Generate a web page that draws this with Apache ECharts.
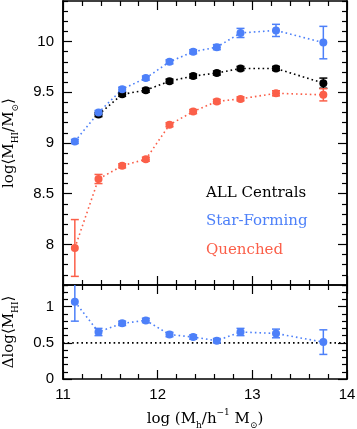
<!DOCTYPE html>
<html>
<head>
<meta charset="utf-8">
<script src="https://cdn.jsdelivr.net/npm/echarts@6.0.0/dist/echarts.min.js"></script>
<style>
html, body { margin: 0; padding: 0; background: #fff; }
#chart { width: 357px; height: 429px; }
</style>
</head>
<body>
<div id="chart"></div>
<script>
// values
var haloMass = [11.125, 11.375, 11.625, 11.875, 12.125, 12.375, 12.625, 12.875, 13.25, 13.75];
var hiAll    = [null, 9.28, 9.48, 9.52, 9.61, 9.66, 9.69, 9.735, 9.735, 9.59];
var hiAllErr = [null, 0.02, 0.02, 0.02, 0.02, 0.02, 0.02, 0.02, 0.02, 0.05];
var hiSF     = [9.015, 9.30, 9.53, 9.64, 9.80, 9.90, 9.945, 10.085, 10.11, 9.99];
var hiSFErr  = [0.02, 0.02, 0.02, 0.02, 0.02, 0.02, 0.025, 0.045, 0.06, 0.16];
var hiQ      = [7.965, 8.645, 8.775, 8.84, 9.18, 9.31, 9.41, 9.435, 9.49, 9.475];
var hiQErr   = [0.28, 0.045, 0.02, 0.02, 0.02, 0.02, 0.02, 0.02, 0.025, 0.06];
var dHI      = [1.07, 0.65, 0.77, 0.81, 0.615, 0.58, 0.53, 0.65, 0.63, 0.51];
var dHIErr   = [0.27, 0.05, 0.03, 0.03, 0.03, 0.03, 0.03, 0.05, 0.06, 0.17];
var dHIRef   = 0.5;

// tick labels
var xTicks = [11, 12, 13, 14];
var yTopTicks = [8, 8.5, 9, 9.5, 10];
var yBotTicks = [0, 0.5, 1];

var blue = '#4d80f9', red = '#fb5f49', black = '#000000';

// small ticks between the labelled ones
function minorTicks(lo, hi, step, major) {
	var out = [];
	for (var v = lo; v <= hi + 1e-9; v += step) {
		var r = Math.round(v * 100) / 100;
		if (major.indexOf(r) < 0) out.push(r);
	}
	return out;
}

function points(ys) {
	var out = [];
	haloMass.forEach(function (x, i) { if (ys[i] != null) out.push([x, ys[i]]); });
	return out;
}
function bars(ys, es) {
	var out = [];
	haloMass.forEach(function (x, i) { if (ys[i] != null) out.push([x, ys[i], es[i]]); });
	return out;
}

function errorBar(params, api) {
	var x = api.value(0), y = api.value(1), e = api.value(2);
	var hi = api.coord([x, y + e]), lo = api.coord([x, y - e]);
	var w = 4;
	var st = { stroke: api.visual('color'), lineWidth: 1.5 };
	return {
		type: 'group',
		children: [
			{ type: 'line', shape: { x1: hi[0], y1: hi[1], x2: lo[0], y2: lo[1] }, style: st },
			{ type: 'line', shape: { x1: hi[0] - w, y1: hi[1], x2: hi[0] + w, y2: hi[1] }, style: st },
			{ type: 'line', shape: { x1: lo[0] - w, y1: lo[1], x2: lo[0] + w, y2: lo[1] }, style: st }
		]
	};
}

var frame = { show: true, onZero: false, lineStyle: { color: '#000', width: 1.5 } };
var labelFont = { color: '#000', fontFamily: 'Liberation Sans', fontSize: 15 };
var nameRich = {
	sub: { fontFamily: 'DejaVu Serif', fontSize: 9, verticalAlign: 'bottom', lineHeight: 22 },
	sup: { fontFamily: 'DejaVu Serif', fontSize: 9, verticalAlign: 'top', lineHeight: 22 }
};

function xAx(grid, pos, labels) {
	return {
		type: 'value', gridIndex: grid, position: pos, min: 11, max: 14, interval: 1,
		axisLine: frame,
		axisTick: { show: true, inside: true, length: 9, lineStyle: { color: '#000', width: 1.2 } },
		minorTick: { show: true, splitNumber: 5, length: 5, lineStyle: { color: '#000', width: 1.2 } },
		axisLabel: labels ? Object.assign({ show: true, margin: 8 }, labelFont) : { show: false },
		splitLine: { show: false }
	};
}
function yAx(grid, pos, min, max, ticks, len, labels) {
	return {
		type: 'value', gridIndex: grid, position: pos, min: min, max: max,
		axisLine: frame,
		axisTick: { show: true, inside: true, length: len, customValues: ticks, lineStyle: { color: '#000', width: 1.2 } },
		axisLabel: labels ? Object.assign({ show: true, margin: 9, customValues: labels }, labelFont) : { show: false },
		splitLine: { show: false }
	};
}

var xAxes = [xAx(0, 'bottom', false), xAx(0, 'top', false), xAx(1, 'bottom', true), xAx(1, 'top', false)];
xAxes[2].name = 'log (M{sub|h}/h{sup|−1} M{sub|⊙})';
xAxes[2].nameLocation = 'middle';
xAxes[2].nameGap = 29;
xAxes[2].nameTextStyle = { color: '#000', fontFamily: 'DejaVu Serif', fontSize: 15, rich: nameRich };

var topMinor = minorTicks(7.6, 10.4, 0.1, yTopTicks);
var botMinor = minorTicks(0, 1.3, 0.1, yBotTicks);
var yAxes = [
	yAx(0, 'left', 7.6, 10.4, yTopTicks, 9, yTopTicks),
	yAx(0, 'left', 7.6, 10.4, topMinor, 5, null),
	yAx(0, 'right', 7.6, 10.4, yTopTicks, 9, null),
	yAx(0, 'right', 7.6, 10.4, topMinor, 5, null),
	yAx(1, 'left', 0, 1.3, yBotTicks, 9, yBotTicks),
	yAx(1, 'left', 0, 1.3, botMinor, 5, null),
	yAx(1, 'right', 0, 1.3, yBotTicks, 9, null),
	yAx(1, 'right', 0, 1.3, botMinor, 5, null)
];
yAxes[0].name = 'log⟨M{sub|HI}/M{sub|⊙}⟩';
yAxes[0].nameLocation = 'middle';
yAxes[0].nameGap = 43;
yAxes[0].nameTextStyle = { color: '#000', fontFamily: 'DejaVu Serif', fontSize: 15, rich: nameRich };
yAxes[4].name = 'Δlog⟨M{sub|HI}⟩';
yAxes[4].nameLocation = 'middle';
yAxes[4].nameGap = 43;
yAxes[4].nameTextStyle = { color: '#000', fontFamily: 'DejaVu Serif', fontSize: 15, rich: nameRich };

function lineSeries(data, color, xi, yi) {
	return {
		type: 'line', xAxisIndex: xi, yAxisIndex: yi, data: data, z: 3,
		symbol: 'circle', symbolSize: 8, showSymbol: true,
		itemStyle: { color: color },
		lineStyle: { color: color, width: 1.6, type: [1.6, 3] },
		animation: false
	};
}
function barSeries(data, color, xi, yi) {
	return {
		type: 'custom', xAxisIndex: xi, yAxisIndex: yi, data: data, z: 2,
		renderItem: errorBar, itemStyle: { color: color }, clip: true,
		encode: { x: 0, y: 1 }, animation: false
	};
}

var chart = echarts.init(document.getElementById('chart'));
chart.setOption({
	animation: false,
	grid: [
		{ left: 63, top: 1, width: 284, height: 284, outerBoundsMode: 'none' },
		{ left: 63, top: 285, width: 284, height: 94, outerBoundsMode: 'none' }
	],
	xAxis: xAxes,
	yAxis: yAxes,
	graphic: [
		{ type: 'text', left: 206, top: 186, style: { text: 'ALL Centrals', fill: black, font: '15px "DejaVu Serif"' } },
		{ type: 'text', left: 206, top: 214, style: { text: 'Star-Forming', fill: blue, font: '15px "DejaVu Serif"' } },
		{ type: 'text', left: 206, top: 243, style: { text: 'Quenched', fill: red, font: '15px "DejaVu Serif"' } }
	],
	series: [
		barSeries(bars(hiAll, hiAllErr), black, 0, 0),
		lineSeries(points(hiAll), black, 0, 0),
		barSeries(bars(hiSF, hiSFErr), blue, 0, 0),
		lineSeries(points(hiSF), blue, 0, 0),
		barSeries(bars(hiQ, hiQErr), red, 0, 0),
		lineSeries(points(hiQ), red, 0, 0),
		{
			type: 'line', xAxisIndex: 2, yAxisIndex: 4, data: [[11, dHIRef], [14, dHIRef]],
			symbol: 'none', lineStyle: { color: '#000', width: 1.6, type: [1.6, 3] }, z: 1
		},
		barSeries(bars(dHI, dHIErr), blue, 2, 4),
		lineSeries(points(dHI), blue, 2, 4)
	]
});
</script>
</body>
</html>
